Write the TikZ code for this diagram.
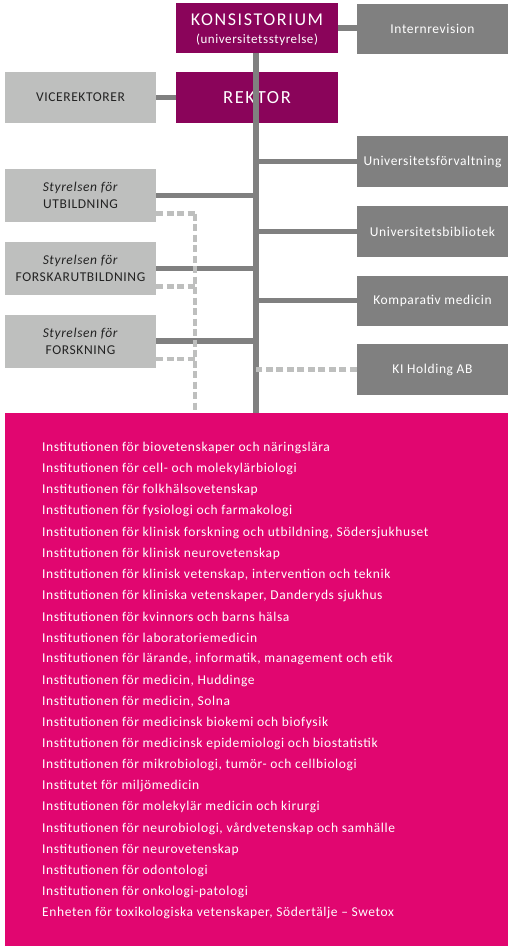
\documentclass[tikz,border=0pt]{standalone}
\usepackage{fontspec}
\setmainfont{Carlito}[LetterSpace=4.5]
\definecolor{kipurple}{RGB}{138,4,90}
\definecolor{kipink}{RGB}{225,6,112}
\definecolor{dkgray}{RGB}{128,128,128}
\definecolor{ltgray}{RGB}{190,191,190}
\definecolor{txtgray}{RGB}{35,35,35}
\begin{document}
\begin{tikzpicture}[x=1pt,y=-1pt,
  topbox/.style={fill=kipurple,text=white,minimum width=162pt,inner sep=0pt,align=center},
  dkbox/.style={fill=dkgray,text=white,minimum width=151pt,minimum height=51pt,inner sep=0pt,align=center,font=\fontsize{13.5}{15}\selectfont},
  ltbox/.style={fill=ltgray,text=txtgray,minimum width=151pt,inner sep=0pt,align=center,font=\fontsize{13.5}{17}\selectfont},
  conn/.style={draw=dkgray,line width=5.5pt},
  dconn/.style={draw=ltgray,line width=4.5pt,dash pattern=on 7pt off 3.5pt},
  listtext/.style={anchor=west,text=white,inner sep=0pt,font=\fontsize{13.5}{15}\selectfont}]
\useasboundingbox (0,0) rectangle (513,952);
% pink box
\node[fill=kipink,minimum width=503pt,minimum height=533pt,inner sep=0pt,anchor=north west] (inst) at (5,413) {};
% top
\node[topbox,minimum height=50pt] (kons) at (257,28) {};
\node[text=white,inner sep=0pt,font=\fontsize{18}{20}\selectfont\addfontfeatures{LetterSpace=9}] (konst) at (257,20) {KONSISTORIUM};
\node[text=white,inner sep=0pt,font=\fontsize{13}{15}\selectfont] (konss) at (257,39.5) {(universitetsstyrelse)};
\node[dkbox,minimum height=50pt] (intern) at (432.5,29) {Internrevision};
\node[topbox,minimum height=51pt] (rektor) at (257,97.5) {\fontsize{18.5}{20}\selectfont\addfontfeatures{LetterSpace=9}REKTOR};
\node[ltbox,minimum height=51pt] (vice) at (80.5,97.5) {VICEREKTORER};
% right boxes
\node[dkbox] (uf) at (432.5,161.5) {Universitetsförvaltning};
\node[dkbox] (ub) at (432.5,231.5) {Universitetsbibliotek};
\node[dkbox,minimum height=50pt] (km) at (432.5,300.5) {Komparativ medicin};
\node[dkbox] (ki) at (432.5,369.5) {KI Holding AB};
% left boxes
\node[ltbox,minimum height=53pt] (su) at (80.5,195.5) {\textit{Styrelsen för}\\UTBILDNING};
\node[ltbox,minimum height=53pt] (sfu) at (80.5,268.5) {\textit{Styrelsen för}\\FORSKARUTBILDNING};
\node[ltbox,minimum height=53pt] (sf) at (80.5,341) {\textit{Styrelsen för}\\FORSKNING};
% spine
\coordinate (spine) at (256,0);
\coordinate (dline) at (195,0);
\draw[conn] (kons.south -| spine) -- (inst.north -| spine);
\draw[conn] (kons.east |- 0,28) -- (intern.west |- 0,28);
\draw[conn] (vice.east) -- (rektor.west);
\foreach \b in {uf,ub,km}{\draw[conn] (\b.west) -- (\b.west -| spine);}
\draw[dconn] (ki.west) -- (ki.west -| spine);
\foreach \b in {su,sfu,sf}{\draw[conn] (\b.east) -- (\b.east -| spine);}
\foreach \b in {su,sfu,sf}{\draw[dconn] ([yshift=-18pt]\b.east) -- ([yshift=-18pt]\b.east -| dline);}
\draw[dconn] ([yshift=-18pt]su.east -| dline) -- (inst.north -| dline);
% list
\foreach \t [count=\i from 0] in {
Institutionen för biovetenskaper och näringslära,
Institutionen för cell- och molekylärbiologi,
Institutionen för folkhälsovetenskap,
Institutionen för fysiologi och farmakologi,
{Institutionen för klinisk forskning och utbildning, Södersjukhuset},
Institutionen för klinisk neurovetenskap,
{Institutionen för klinisk vetenskap, intervention och teknik},
{Institutionen för kliniska vetenskaper, Danderyds sjukhus},
Institutionen för kvinnors och barns hälsa,
Institutionen för laboratoriemedicin,
{Institutionen för lärande, informatik, management och etik},
{Institutionen för medicin, Huddinge},
{Institutionen för medicin, Solna},
Institutionen för medicinsk biokemi och biofysik,
Institutionen för medicinsk epidemiologi och biostatistik,
{Institutionen för mikrobiologi, tumör- och cellbiologi},
Institutet för miljömedicin,
Institutionen för molekylär medicin och kirurgi,
{Institutionen för neurobiologi, vårdvetenskap och samhälle},
Institutionen för neurovetenskap,
Institutionen för odontologi,
Institutionen för onkologi-patologi,
{Enheten för toxikologiska vetenskaper, Södertälje – Swetox}}
{\node[listtext] (l\i) at (42,448+21.14*\i) {\t};}
\end{tikzpicture}
\end{document}
